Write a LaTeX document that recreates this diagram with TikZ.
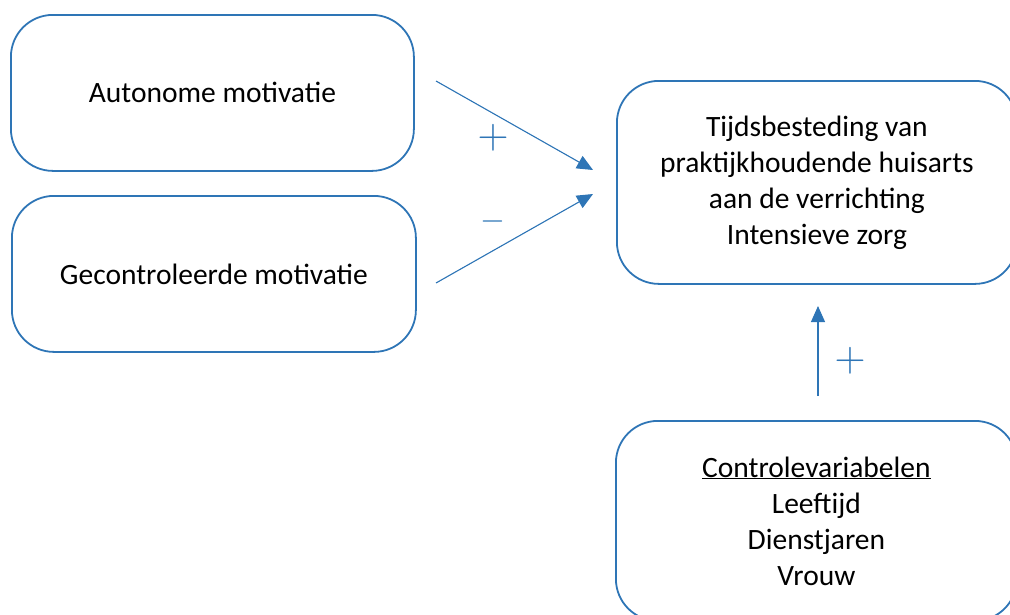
\RequirePackage{fix-cm}
\documentclass[tikz,border=0pt]{standalone}
\usepackage{fontspec}
\setmainfont{Carlito}
\usetikzlibrary{arrows.meta,positioning}
\definecolor{modelblue}{RGB}{46,117,182}
\tikzset{
  modelbox/.style={
    draw=modelblue,
    line width=1.8pt,
    rounded corners=42pt,
    align=center,
    font=\fontsize{29.5}{36}\selectfont,
    inner sep=0pt,
    anchor=north west
  },
  effect/.style={-{Triangle[length=16pt,width=14pt]},draw=modelblue,fill=modelblue,line width=1.1pt},
  signlabel/.style={text=modelblue,font=\fontsize{43}{43}\selectfont,inner sep=0pt}
}
\begin{document}
\begin{tikzpicture}[x=1pt,y=-1pt]
\useasboundingbox (0,0) rectangle (1010,614);
\clip (0,0) rectangle (1010,614);
\node[modelbox,minimum width=403pt,minimum height=156pt] (auto) at (10,14) {Autonome motivatie};
\node[modelbox,minimum width=404pt,minimum height=156pt] (gecon) at (11,195) {Gecontroleerde motivatie};
\node[modelbox,minimum width=400pt,minimum height=203pt] (tijd) at (616,80) {Tijdsbesteding van\\praktijkhoudende huisarts\\aan de verrichting\\Intensieve zorg};
\node[modelbox,minimum width=401pt,minimum height=200pt] (contr) at (615,420) {\underline{Controlevariabelen}\\Leeftijd\\Dienstjaren\\Vrouw};
% free arrow ends
\coordinate (autoout) at (436,81);
\coordinate (geconout) at (436,283);
\coordinate (tijdinA) at (593,170);
\coordinate (tijdinG) at (593,194);
\coordinate (controut) at (818,396);
\coordinate (tijdinC) at (818,306);
\draw[effect] (autoout)--(tijdinA);
\draw[effect] (geconout)--(tijdinG);
\draw[effect] (controut)--(tijdinC);
\node[signlabel] (plusA) at (493,138) {$+$};
\node[signlabel,font=\fontsize{32}{32}\selectfont] (minG) at (493,221) {$-$};
\node[signlabel] (plusC) at (850,361) {$+$};
\end{tikzpicture}
\end{document}
